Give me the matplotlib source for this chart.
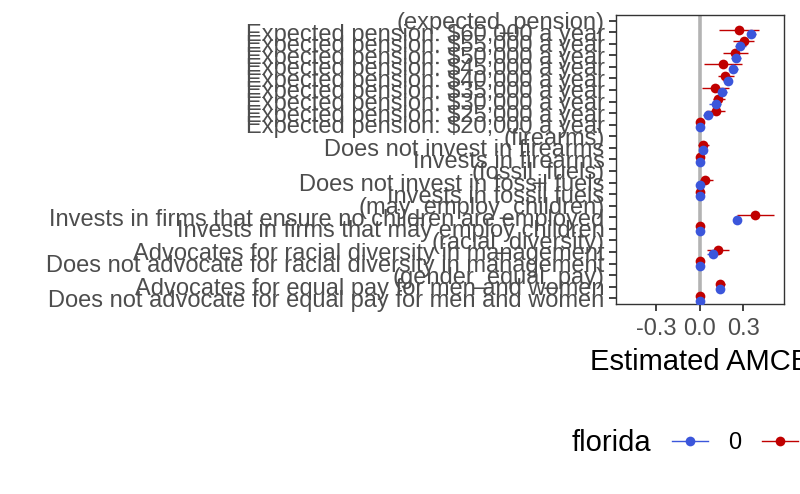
import matplotlib
matplotlib.use("Agg")
import matplotlib.pyplot as plt
from matplotlib.lines import Line2D
import numpy as np

plt.rcParams['font.family'] = ['Liberation Sans', 'DejaVu Sans']

# rows from top to bottom; header rows carry no estimate
labels = [
    "(expected_pension)",
    "Expected pension: $60,000 a year",
    "Expected pension: $55,000 a year",
    "Expected pension: $50,000 a year",
    "Expected pension: $45,000 a year",
    "Expected pension: $40,000 a year",
    "Expected pension: $35,000 a year",
    "Expected pension: $30,000 a year",
    "Expected pension: $25,000 a year",
    "Expected pension: $20,000 a year",
    "(firearms)",
    "Does not invest in firearms",
    "Invests in firearms",
    "(fossil_fuels)",
    "Does not invest in fossil fuels",
    "Invests in fossil fuels",
    "(may_employ_children)",
    "Invests in firms that ensure no children are employed",
    "Invests in firms that may employ children",
    "(racial_diversity)",
    "Advocates for racial diversity in management",
    "Does not advocate for racial diversity in management",
    "(gender_equal_pay)",
    "Advocates for equal pay for men and women",
    "Does not advocate for equal pay for men and women",
]

nan = np.nan
# florida = 0
est0 = [nan, 0.355, 0.277, 0.250, 0.231, 0.192, 0.151, 0.108, 0.055, 0.0,
        nan, 0.025, 0.0, nan, 0.002, 0.0, nan, 0.256, 0.0,
        nan, 0.092, 0.0, nan, 0.140, 0.0]
lo0 = [nan, 0.330, 0.240, 0.215, 0.200, 0.163, 0.117, 0.066, 0.020, 0.0,
       nan, 0.010, 0.0, nan, -0.010, 0.0, nan, 0.240, 0.0,
       nan, 0.048, 0.0, nan, 0.130, 0.0]
hi0 = [nan, 0.390, 0.315, 0.285, 0.265, 0.222, 0.185, 0.147, 0.090, 0.0,
       nan, 0.040, 0.0, nan, 0.015, 0.0, nan, 0.272, 0.0,
       nan, 0.124, 0.0, nan, 0.150, 0.0]
# florida = 1
est1 = [nan, 0.268, 0.305, 0.243, 0.158, 0.176, 0.105, 0.128, 0.112, 0.0,
        nan, 0.020, 0.0, nan, 0.037, 0.0, nan, 0.382, 0.0,
        nan, 0.126, 0.0, nan, 0.142, 0.0]
lo1 = [nan, 0.135, 0.230, 0.158, 0.032, 0.124, 0.016, 0.090, 0.043, 0.0,
       nan, -0.014, 0.0, nan, 0.002, 0.0, nan, 0.254, 0.0,
       nan, 0.048, 0.0, nan, 0.115, 0.0]
hi1 = [nan, 0.405, 0.375, 0.330, 0.290, 0.238, 0.200, 0.170, 0.170, 0.0,
       nan, 0.062, 0.0, nan, 0.094, 0.0, nan, 0.513, 0.0,
       nan, 0.204, 0.0, nan, 0.170, 0.0]

xticks = [-0.3, 0.0, 0.3]
colors = {"0": "#3B56DB", "1": "#C00000"}

n = len(labels)
ypos = np.arange(n)[::-1]

fig = plt.figure(figsize=(8, 4.94), dpi=100)
ax = fig.add_axes([0.7696, 0.3846, 0.2104, 0.5856])

ax.axvline(0, color="#b3b3b3", lw=2.6, zorder=1)

series = [("1", est1, lo1, hi1, 0.2), ("0", est0, lo0, hi0, -0.2)]
for name, est, lo, hi, off in series:
    est = np.array(est)
    lo = np.array(lo)
    hi = np.array(hi)
    y = ypos + off
    ax.hlines(y, lo, hi, color=colors[name], lw=1.0, zorder=2)
    ax.plot(est, y, "o", color=colors[name], ms=7, mec="none", zorder=3)

ax.set_xlim(-0.58, 0.58)
ax.set_ylim(-0.5, n - 0.5)
ax.set_xticks(xticks)
ax.set_xticklabels(["%.1f" % v for v in xticks])
ax.set_yticks(ypos)
ax.set_yticklabels(labels)
ax.tick_params(axis="both", direction="out", length=5, width=1.3,
               color="#333333", labelcolor="#4d4d4d", labelsize=17)
ax.tick_params(axis="y", pad=3)
ax.tick_params(axis="x", pad=5)
for s in ax.spines.values():
    s.set_color("#333333")
    s.set_linewidth(1.0)

ax.set_xlabel("Estimated AMCE", fontsize=21, color="black", labelpad=6)

# legend
fig.text(0.715, 0.103, "florida", fontsize=21, ha="left", va="center")
handles = [Line2D([], [], color=colors[k], lw=1.0, marker="o", ms=7, mec="none")
           for k in ["0", "1"]]
fig.legend(handles, ["0", "1"], ncol=2, loc="center left",
           bbox_to_anchor=(0.84, 0.103), frameon=False, fontsize=17,
           handlelength=1.52, handletextpad=0.85, columnspacing=0.9,
           borderaxespad=0, borderpad=0)

fig.savefig("out.png", dpi=100)
